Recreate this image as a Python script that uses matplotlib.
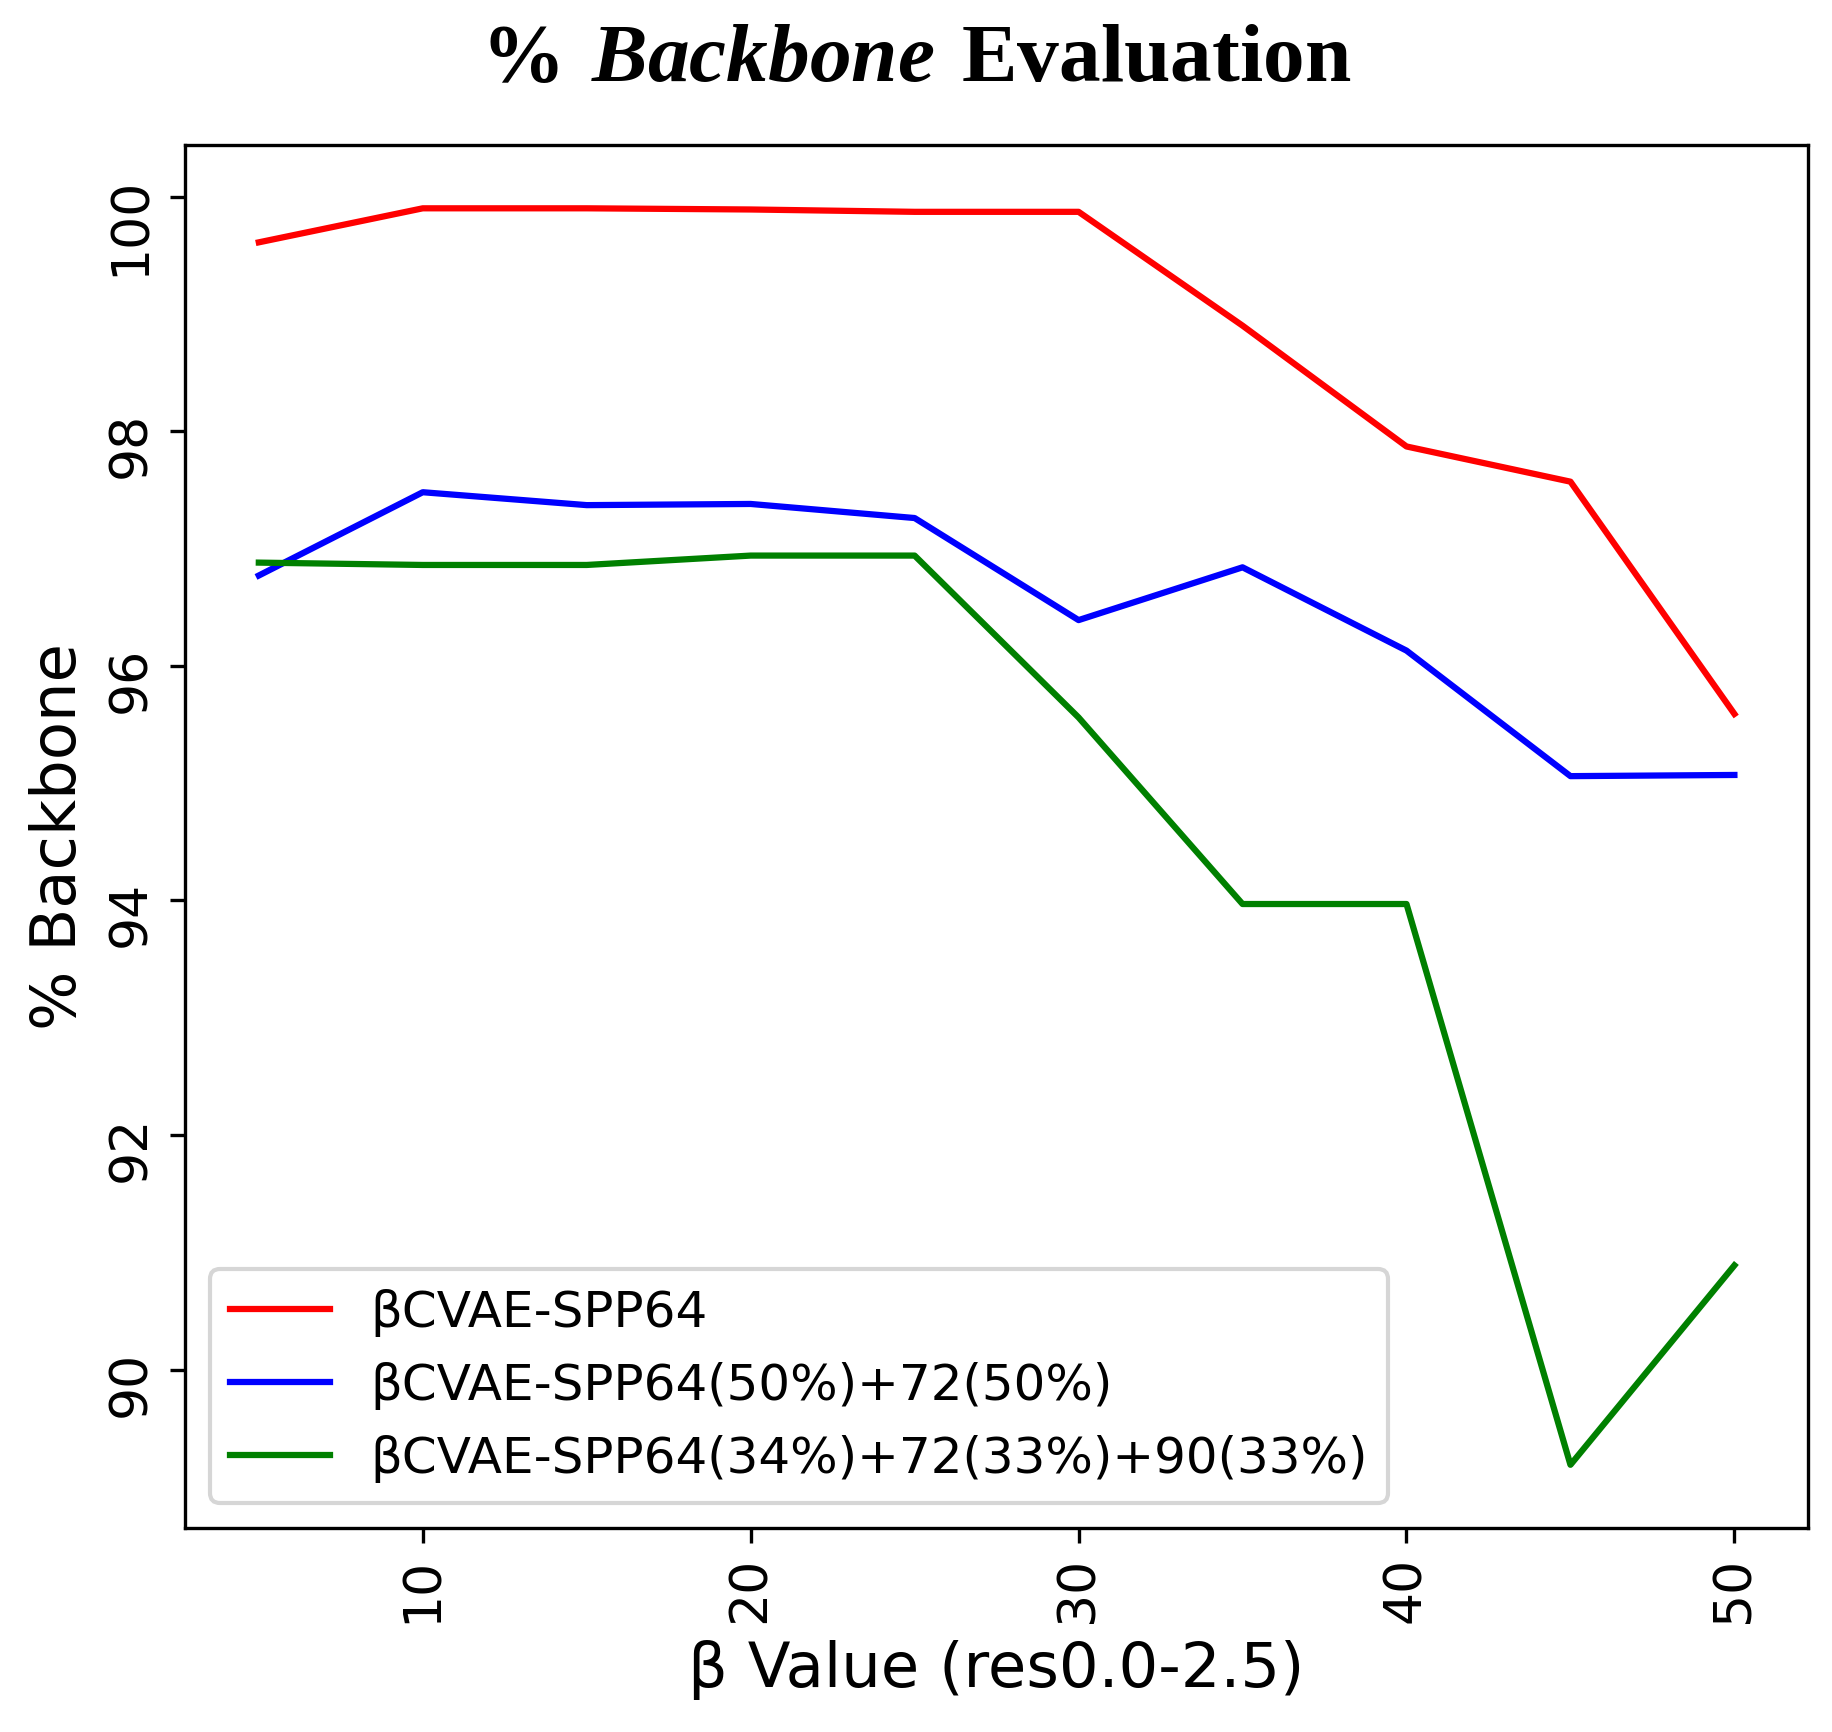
import matplotlib
matplotlib.use("Agg")
import matplotlib.pyplot as plt

plt.rcParams['mathtext.fontset'] = 'custom'
plt.rcParams['mathtext.bf'] = 'Liberation Serif:bold'
plt.rcParams['mathtext.bfit'] = 'Liberation Serif:bold:italic'
plt.rcParams['mathtext.rm'] = 'Liberation Serif'

# data
beta = [5, 10, 15, 20, 25, 30, 35, 40, 45, 50]
spp64 = [99.61, 99.90, 99.90, 99.89, 99.87, 99.87, 98.90, 97.87, 97.57, 95.59]
spp64_72 = [96.77, 97.48, 97.37, 97.38, 97.26, 96.39, 96.84, 96.13, 95.06, 95.07]
spp64_72_90 = [96.88, 96.86, 96.86, 96.94, 96.94, 95.56, 93.97, 93.97, 89.19, 90.89]

labels = ['βCVAE-SPP64',
          'βCVAE-SPP64(50%)+72(50%)',
          'βCVAE-SPP64(34%)+72(33%)+90(33%)']
colors = ['red', 'blue', 'green']

fig = plt.figure(figsize=(1832 / 300, 1732 / 300), dpi=300)
ax = fig.add_axes([0.101, 0.118, 0.886, 0.798])

for y, lab, c in zip([spp64, spp64_72, spp64_72_90], labels, colors):
    ax.plot(beta, y, color=c, lw=1.5, label=lab)

ax.tick_params(axis='both', labelsize=12.5, labelrotation=90)
ax.set_xlabel('β Value (res0.0-2.5)', fontsize=15)
ax.set_ylabel('% Backbone', fontsize=15)
ax.legend(loc='lower left', fontsize=12)

fig.text(0.5, 0.967, r'$\mathbf{\%}\ \mathbfit{Backbone}\ \mathbf{Evaluation}$',
         ha='center', va='center', fontsize=20)

fig.savefig('out.png', dpi=300)
